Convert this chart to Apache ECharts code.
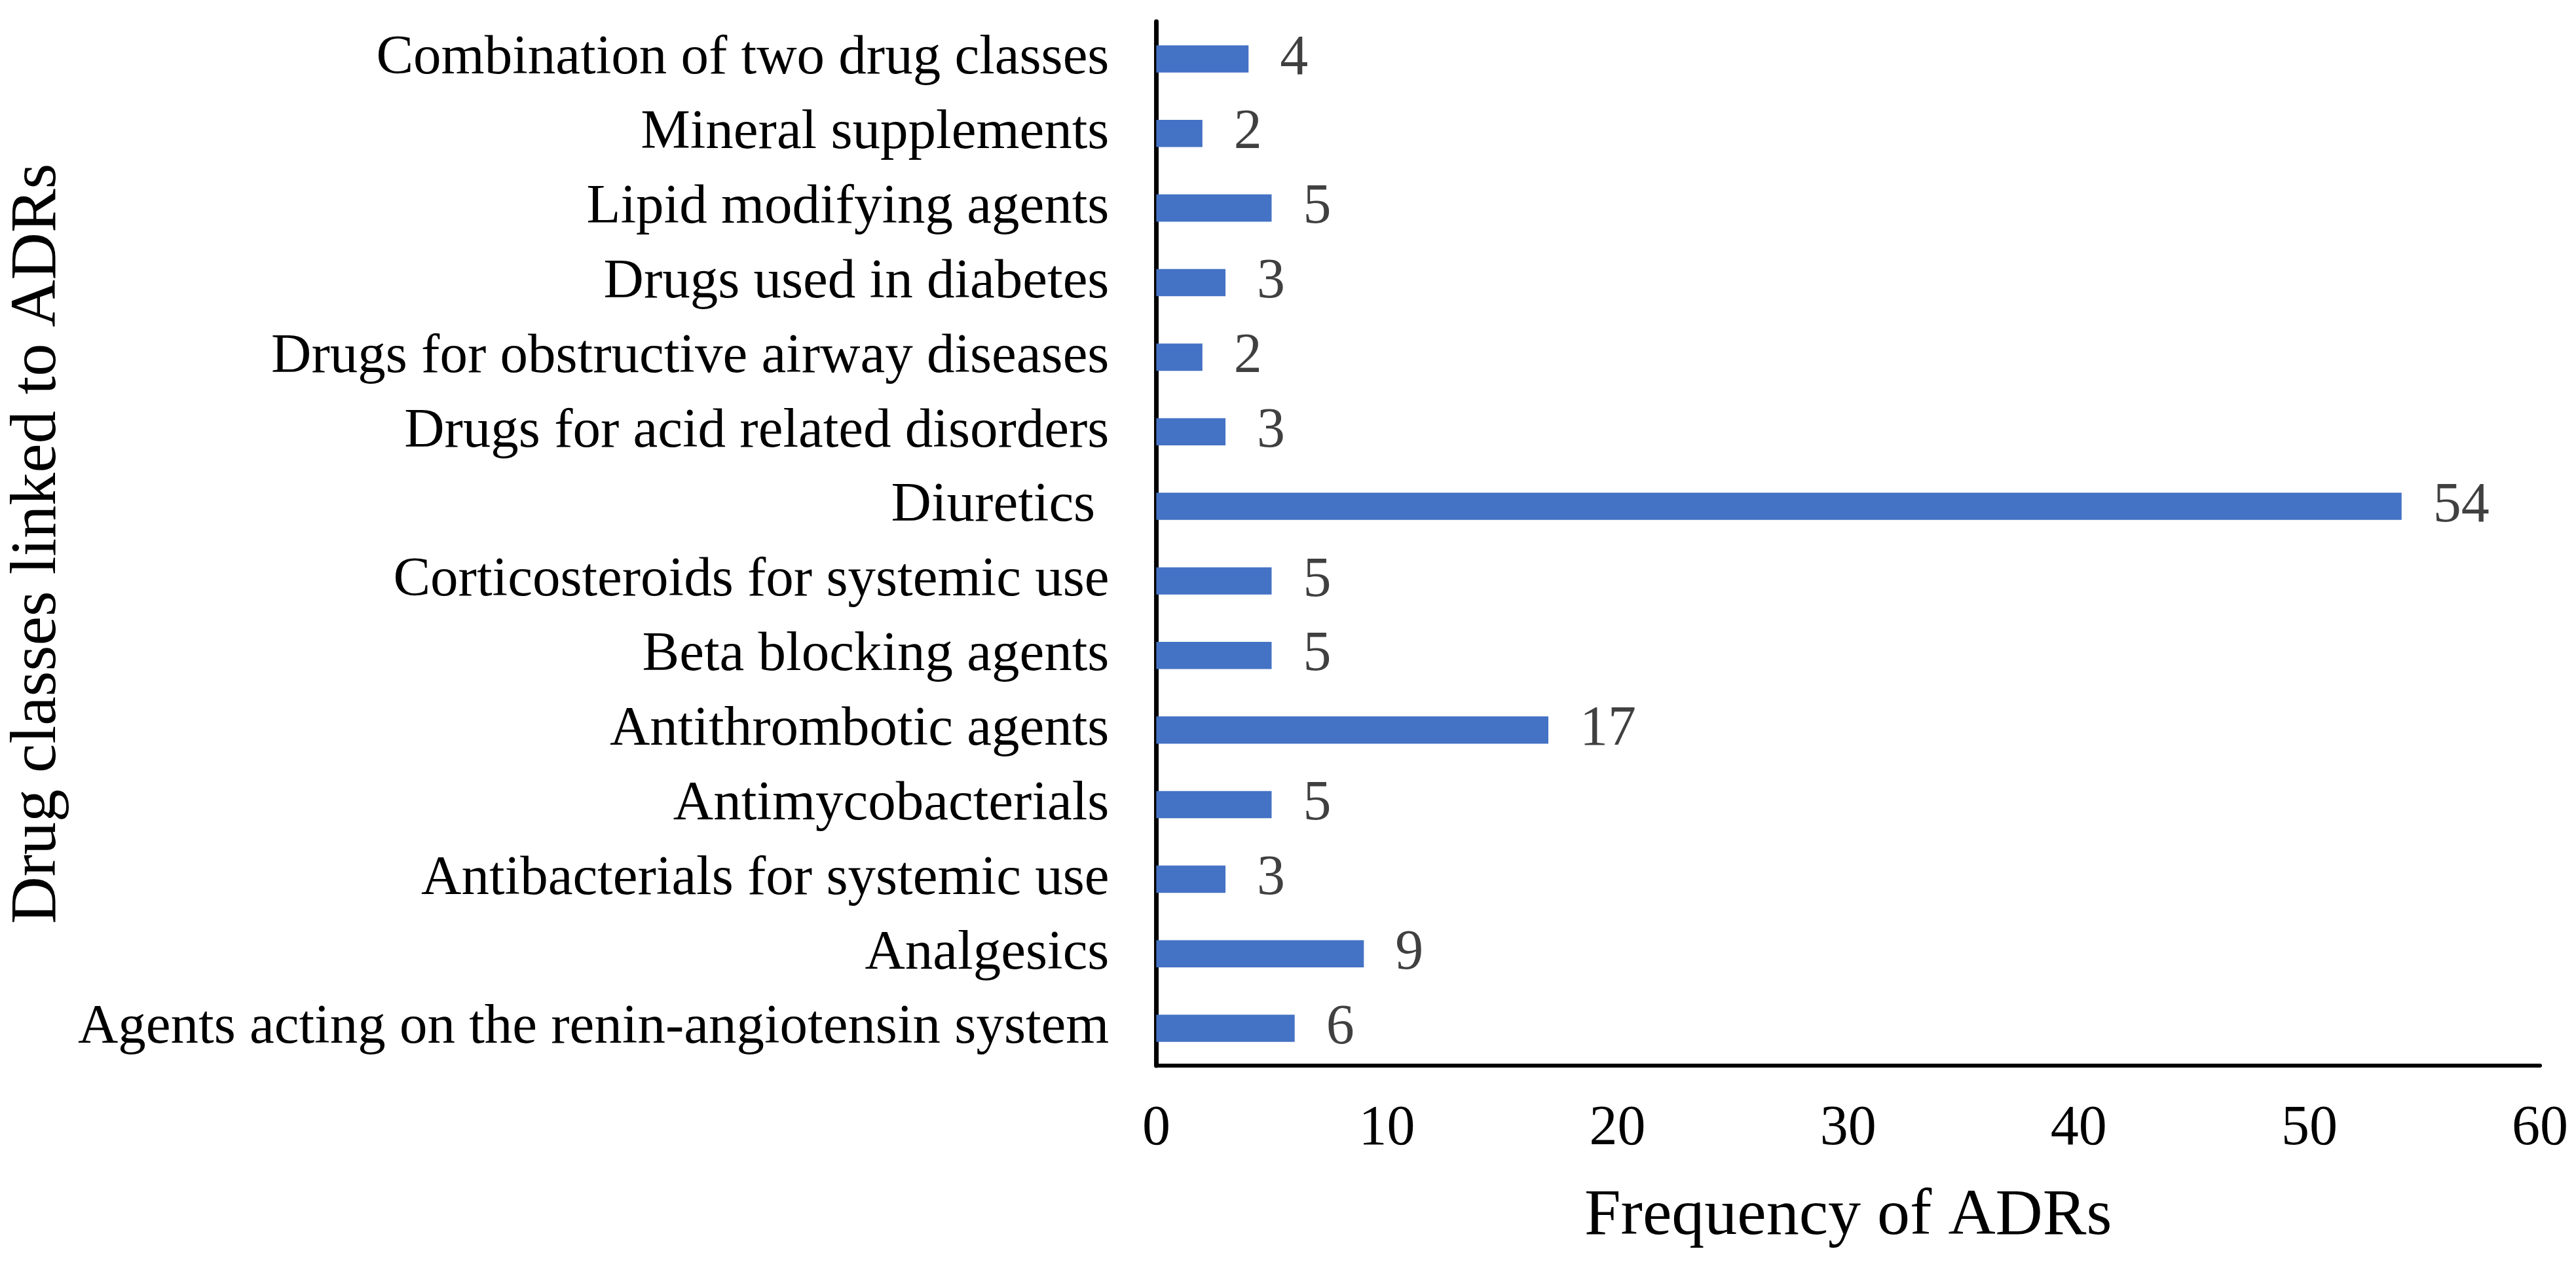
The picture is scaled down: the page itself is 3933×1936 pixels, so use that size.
<!DOCTYPE html>
<html>
<head>
<meta charset="utf-8">
<script src="https://cdn.jsdelivr.net/npm/echarts@6/dist/echarts.min.js"></script>
<style>
  html, body { margin: 0; padding: 0; background: #fff; }
  #chart { width: 3933px; height: 1936px; }
</style>
</head>
<body>
<div id="chart"></div>
<script>
// bottom to top, as the category axis draws them
const categories = [
  'Agents acting on the renin-angiotensin system',
  'Analgesics',
  'Antibacterials for systemic use',
  'Antimycobacterials',
  'Antithrombotic agents',
  'Beta blocking agents',
  'Corticosteroids for systemic use',
  'Diuretics ',
  'Drugs for acid related disorders',
  'Drugs for obstructive airway diseases',
  'Drugs used in diabetes',
  'Lipid modifying agents',
  'Mineral supplements',
  'Combination of two drug classes'
]
const frequencies = [6, 9, 3, 5, 17, 5, 5, 54, 3, 2, 3, 5, 2, 4]
const xTicks = [0, 10, 20, 30, 40, 50, 60]

const font = 'Liberation Serif'
const chart = echarts.init(document.getElementById('chart'))

chart.setOption({
  animation: false,
  grid: { left: 1755, right: 55, top: 33, bottom: 309, containLabel: false },
  xAxis: {
    type: 'value',
    min: xTicks[0],
    max: xTicks[xTicks.length - 1],
    interval: 10,
    name: 'Frequency of ADRs',
    nameLocation: 'middle',
    nameGap: 231,
    nameTextStyle: { fontFamily: font, fontSize: 100, color: '#000', verticalAlign: 'middle' },
    axisLine: { show: true, lineStyle: { color: '#000', width: 6 } },
    axisTick: { show: false },
    splitLine: { show: false },
    axisLabel: { fontFamily: font, fontSize: 86, color: '#000', margin: 97, verticalAlign: 'middle' }
  },
  yAxis: {
    type: 'category',
    data: categories,
    name: 'Drug classes linked to ADRs',
    nameLocation: 'middle',
    nameGap: 1691,
    nameRotate: 90,
    nameTextStyle: { fontFamily: font, fontSize: 100, color: '#000', verticalAlign: 'middle' },
    axisLine: { show: true, lineStyle: { color: '#000', width: 7 } },
    axisTick: { show: false },
    axisLabel: { fontFamily: font, fontSize: 85, color: '#000', margin: 72 }
  },
  series: [{
    type: 'bar',
    data: frequencies,
    barWidth: '36.5%',
    itemStyle: { color: '#4472C4' },
    label: {
      show: true,
      position: 'right',
      distance: 48,
      fontFamily: font,
      fontSize: 86,
      color: '#404040'
    }
  }]
})
</script>
</body>
</html>
